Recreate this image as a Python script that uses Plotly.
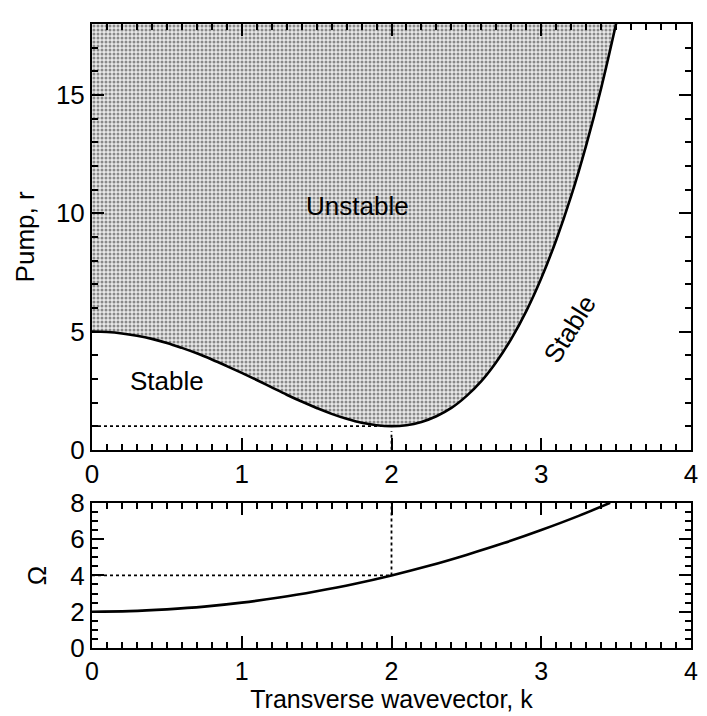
import plotly.graph_objects as go

# ---- data ----
k_curve = [0.0, 0.1, 0.2, 0.3, 0.4, 0.5, 0.6, 0.7, 0.8, 0.9, 1.0, 1.1, 1.2, 1.3, 1.4,
           1.5, 1.6, 1.7, 1.8, 1.9, 2.0, 2.1, 2.2, 2.3, 2.4, 2.5, 2.6, 2.7, 2.8, 2.9,
           3.0, 3.1, 3.2, 3.3, 3.4, 3.5]
r_curve = [5.00, 4.98, 4.92, 4.82, 4.69, 4.52, 4.31, 4.08, 3.82, 3.54, 3.25, 2.95, 2.64,
           2.33, 2.04, 1.77, 1.52, 1.31, 1.14, 1.04, 1.00, 1.04, 1.18, 1.42, 1.77, 2.27,
           2.90, 3.71, 4.69, 5.86, 7.25, 8.87, 10.73, 12.87, 15.29, 18.02]

k_omega = [0.0, 0.25, 0.5, 0.75, 1.0, 1.25, 1.5, 1.75, 2.0, 2.25, 2.5, 2.75, 3.0, 3.25, 3.46]
omega = [2.00, 2.03, 2.13, 2.28, 2.50, 2.78, 3.13, 3.53, 4.00, 4.53, 5.13, 5.78, 6.50, 7.28, 8.00]

k_min = 2.0
r_min = 1.0
r_vline_top = 0.8
omega_at_min = 4.0

r_max = 18
omega_max = 8
k_max = 4

x_ticks = [0, 1, 2, 3, 4]
r_ticks = [0, 5, 10, 15]
omega_ticks = [0, 2, 4, 6, 8]

FONT = "Liberation Sans"
FS = 26

fig = go.Figure()

# shaded unstable region
fig.add_trace(go.Scatter(
    x=k_curve + [k_curve[-1], 0.0], y=r_curve + [r_max, r_max],
    mode="lines", line=dict(width=0), fill="toself",
    fillcolor="rgba(0,0,0,0)",
    fillpattern=dict(shape=".", fgcolor="#2a2a2a", bgcolor="#e8e8e8", size=4, solidity=0.45),
    hoverinfo="skip", showlegend=False, xaxis="x", yaxis="y"))

# dotted guides (top)
fig.add_trace(go.Scatter(x=[0, k_min], y=[r_min, r_min], mode="lines",
                         line=dict(color="black", width=1.8, dash="dot"),
                         showlegend=False, xaxis="x", yaxis="y"))
fig.add_trace(go.Scatter(x=[k_min, k_min], y=[0, r_vline_top], mode="lines",
                         line=dict(color="black", width=1.8, dash="dot"),
                         showlegend=False, xaxis="x", yaxis="y"))

# threshold curve
fig.add_trace(go.Scatter(x=k_curve, y=r_curve, mode="lines", line_shape="spline",
                         line=dict(color="black", width=2.6),
                         showlegend=False, xaxis="x", yaxis="y"))

# bottom panel guides
fig.add_trace(go.Scatter(x=[0, k_min], y=[omega_at_min, omega_at_min], mode="lines",
                         line=dict(color="black", width=1.8, dash="dot"),
                         showlegend=False, xaxis="x2", yaxis="y2"))
fig.add_trace(go.Scatter(x=[k_min, k_min], y=[omega_at_min, omega_max], mode="lines",
                         line=dict(color="black", width=1.8, dash="dot"),
                         showlegend=False, xaxis="x2", yaxis="y2"))
fig.add_trace(go.Scatter(x=k_omega, y=omega, mode="lines", line_shape="spline",
                         line=dict(color="black", width=2.6),
                         showlegend=False, xaxis="x2", yaxis="y2"))

axis_common = dict(showline=True, linecolor="black", linewidth=2, mirror="ticks",
                   ticks="inside", tickcolor="black", tickwidth=1.5, ticklen=12,
                   showgrid=False, zeroline=False,
                   tickfont=dict(family=FONT, size=FS, color="black"))

fig.update_layout(
    width=707, height=716,
    margin=dict(l=92, r=9, t=14, b=66),
    paper_bgcolor="white", plot_bgcolor="white",
    font=dict(family=FONT, size=FS, color="black"),
    xaxis=dict(axis_common, domain=[0, 1], range=[0, k_max], tickvals=x_ticks,
               anchor="y", minor=dict(ticks="inside", dtick=0.1, ticklen=6,
                                      tickcolor="black", tickwidth=1.5)),
    yaxis=dict(axis_common, domain=[0.3176, 1], range=[0, r_max], tickvals=r_ticks,
               anchor="x", minor=dict(ticks="inside", dtick=1, ticklen=6,
                                      tickcolor="black", tickwidth=1.5),
               title=dict(text="Pump, r", standoff=14,
                          font=dict(family=FONT, size=FS))),
    xaxis2=dict(axis_common, domain=[0, 1], range=[0, k_max], tickvals=x_ticks,
                anchor="y2", minor=dict(ticks="inside", dtick=0.1, ticklen=6,
                                        tickcolor="black", tickwidth=1.5),
                tickfont=dict(family=FONT, size=25, color="black"),
                title=dict(text="Transverse wavevector, k", standoff=4,
                           font=dict(family=FONT, size=25))),
    yaxis2=dict(axis_common, domain=[0, 0.2327], range=[0, omega_max], tickvals=omega_ticks,
                anchor="x2", minor=dict(ticks="inside", dtick=0.5, ticklen=6,
                                        tickcolor="black", tickwidth=1.5),
                title=dict(text="Ω", standoff=16, font=dict(family=FONT, size=FS))),
)

fig.add_annotation(x=1.77, y=10.3, xref="x", yref="y", text="Unstable", showarrow=False,
                   font=dict(family=FONT, size=FS, color="black"))
fig.add_annotation(x=0.5, y=2.9, xref="x", yref="y", text="Stable", showarrow=False,
                   font=dict(family=FONT, size=FS, color="black"))
fig.add_annotation(x=3.19, y=5.1, xref="x", yref="y", text="Stable", showarrow=False,
                   textangle=-58, font=dict(family=FONT, size=FS, color="black"))

fig.write_html("out.html")
